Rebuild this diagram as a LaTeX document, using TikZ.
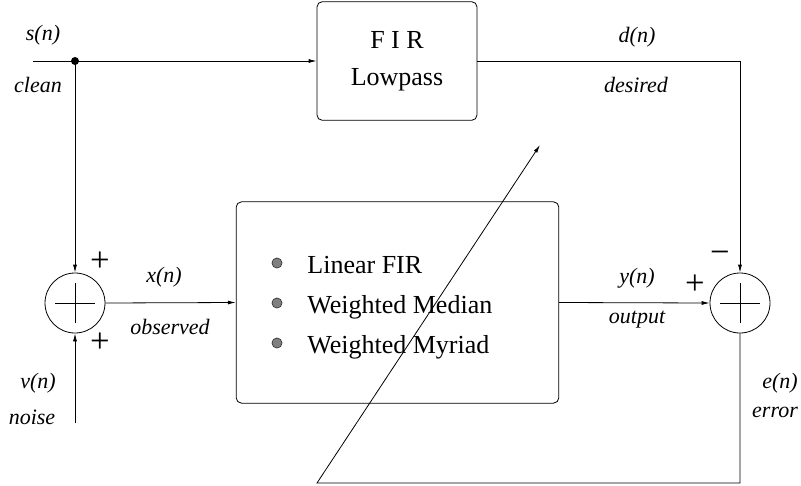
\documentclass[tikz,border=0pt]{standalone}
\usepackage{fontspec}
\setmainfont{Liberation Serif}
\usetikzlibrary{arrows.meta,positioning,calc}

\tikzset{
  lbl/.style={font=\fontsize{16.5}{18}\selectfont\itshape,inner sep=0pt},
  blk/.style={draw,rounded corners=4pt,inner sep=0pt,font=\fontsize{19.5}{28}\selectfont,align=center},
  item/.style={font=\fontsize{19.5}{22}\selectfont,inner sep=0pt,anchor=base west},
  sumnode/.style={draw,circle,minimum size=45pt,inner sep=0pt,
    path picture={\draw (path picture bounding box.center) +(-15pt,0) -- +(15pt,0)
      (path picture bounding box.center) +(0,-15pt) -- +(0,15pt);}},
  sgn/.style={font=\fontsize{26}{26}\selectfont,inner sep=0pt}
}

\begin{document}
\begin{tikzpicture}[x=0.75pt,y=-0.75pt,line width=0.6pt,>={Latex[length=6pt,width=3pt]}]
\useasboundingbox (0,0) rectangle (801,486);
% blocks
\node[blk,minimum width=120pt,minimum height=89pt] (fir) at (397,61) {F I R\\Lowpass};
\node[blk,minimum width=242pt,minimum height=151pt] (filt) at (397.5,302.5) {};
\foreach \txt [count=\i] in {Linear FIR,Weighted Median,Weighted Myriad} {
  \fill[gray,draw=black!80,line width=0.5pt] (277,223+40*\i) circle (3.8pt);
  \node[item] (item\i) at (307,233+40*\i) {\txt};
}
\node[sumnode] (sum1) at (75,303) {}; \node[sumnode] (sum2) at (740,303) {};
\node[sgn] (p1) at (100,262) {+}; \node[sgn] (p2) at (100,343) {+};
\node[sgn] (p3) at (695,285) {+}; \node[sgn] (m1) at (720,257) {−};
% signal labels
\node[lbl] (ls) at (43,35) {s(n)}; \node[lbl] (lc) at (38,85) {clean};
\node[lbl] (lx) at (164,277) {x(n)}; \node[lbl] (lo) at (170,327) {observed};
\node[lbl] (lv) at (38,383) {v(n)}; \node[lbl] (ln) at (32,417) {noise};
\node[lbl] (ld) at (637,37) {d(n)}; \node[lbl] (lde) at (636,85) {desired};
\node[lbl] (ly) at (637,278) {y(n)}; \node[lbl] (lout) at (637,320) {output};
\node[lbl] (le) at (780,383) {e(n)}; \node[lbl] (ler) at (775,412) {error};
% connectors
\coordinate (src) at (33,61); \coordinate (tap) at (75,61); \coordinate (vin) at (75,423);
\coordinate (corner) at (317,483); \coordinate (tip) at (540,145);
\draw (src) -- (tap); \fill (tap) circle (3pt);
\draw[->] (tap) -- (fir.west); \draw[->] (tap) -- (sum1.north);
\draw[->] (vin) -- (sum1.south); \draw[->] (sum1.east) -- (filt.west);
\draw[->] (filt.east) -- (sum2.west); \draw[->] (fir.east) -| (sum2.north);
\draw[->] (sum2.south) |- (corner) -- (tip);
\end{tikzpicture}
\end{document}
